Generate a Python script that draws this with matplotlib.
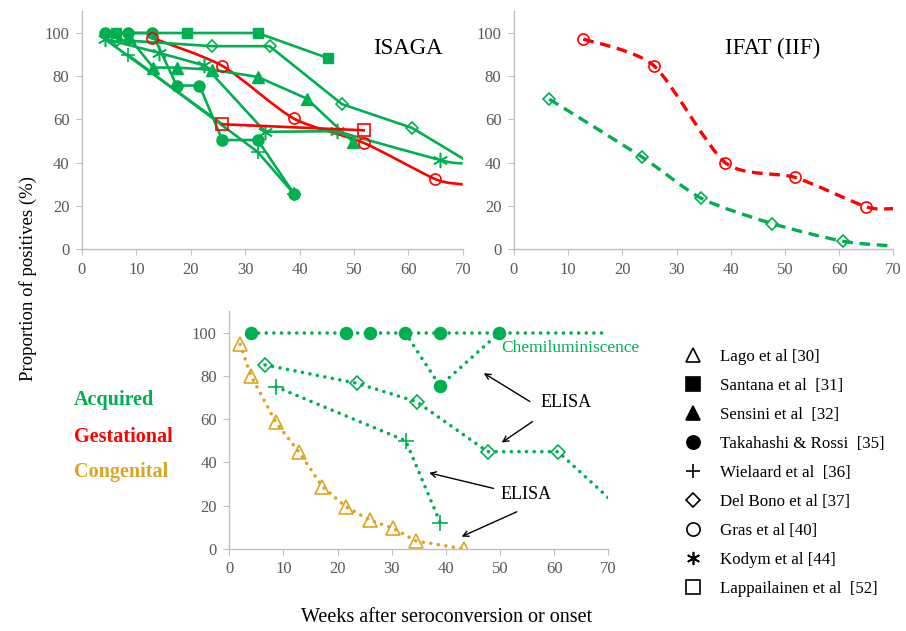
import matplotlib
matplotlib.use("Agg")
import matplotlib.pyplot as plt
from matplotlib.path import Path
from matplotlib.patches import PathPatch
from matplotlib.lines import Line2D

plt.rcParams['font.family'] = ['Liberation Serif', 'DejaVu Serif']

GREEN = '#00B050'
RED = '#FF0000'
GOLD = '#DAA520'
GREY = '#595959'

# ISAGA panel (weeks, % positive)
isaga_santana_x = [6.3, 19.3, 32.3, 45.2]
isaga_santana_y = [100, 100, 100, 88.4]
isaga_sensini_x = [8.6, 13.1, 17.4, 23.9, 32.3, 41.3, 49.8]
isaga_sensini_y = [98, 84, 84, 83, 79.7, 69.7, 49.7]
isaga_takahashi_x = [4.3, 8.5, 12.9, 17.4, 21.6, 25.8, 32.3, 39.0]
isaga_takahashi_y = [100, 100, 100, 75.7, 75.7, 50.5, 50.5, 25.6]
isaga_other_x = [4.3, 25.8]
isaga_other_y = [97, 57.8]
isaga_wielaard_x = [8.4, 32.3, 39.0]
isaga_wielaard_y = [90, 45, 25.6]
isaga_delbono_x = [6.5, 23.9, 34.5, 47.8, 60.7, 70]
isaga_delbono_y = [96.8, 93.9, 93.9, 67.1, 56.1, 42]
isaga_gras_x = [12.8, 25.8, 38.9, 51.8, 64.9, 70]
isaga_gras_y = [97.8, 84.8, 60.5, 49.2, 32.5, 30]
isaga_kodym_x = [4.3, 14.2, 22.5, 33.7, 46.8, 65.9, 70]
isaga_kodym_y = [97.2, 90.8, 85, 54.3, 54.6, 41.2, 39.7]
isaga_lapp_x = [25.8, 51.8]
isaga_lapp_y = [57.8, 55]

# IFAT panel
ifat_gras_x = [12.8, 25.8, 39.0, 51.9, 65.0, 70]
ifat_gras_y = [97.2, 84.9, 40.0, 33.2, 19.6, 18.8]
ifat_delbono_x = [6.5, 23.6, 34.6, 47.6, 60.7, 70]
ifat_delbono_y = [69.4, 42.7, 23.5, 11.9, 3.7, 1.5]

# ELISA / chemiluminiscence panel
chemi_x = [3.95, 21.5, 25.9, 32.5, 38.9, 49.9, 70]
chemi_y = [100, 100, 100, 100, 100, 100, 100]
chemi_dip_x = [32.5, 38.9, 49.9]
chemi_dip_y = [100, 75.4, 100]
elisa_delbono_x = [6.6, 23.6, 34.6, 47.7, 60.7, 70]
elisa_delbono_y = [85.1, 76.6, 68.1, 45, 45, 23.7]
elisa_wielaard_x = [8.6, 32.6, 39.0]
elisa_wielaard_y = [75, 50, 11.9]
lago_x = [2.0, 4.0, 8.6, 12.9, 17.2, 21.5, 25.9, 30.2, 34.5, 43.4]
lago_y = [94.6, 80.1, 58.6, 44.7, 28.8, 19.6, 13.4, 9.6, 3.7, 0]

legend_labels = ['Lago et al [30]', 'Santana et al  [31]', 'Sensini et al  [32]',
                 'Takahashi & Rossi  [35]', 'Wielaard et al  [36]', 'Del Bono et al [37]',
                 'Gras et al [40]', 'Kodym et al [44]', 'Lappailainen et al  [52]']
legend_markers = ['^', 's', '^', 'o', '+', 'D', 'o', (6, 2, 0), 's']
legend_filled = [False, True, True, True, True, False, False, True, False]

STAR = (6, 2, 0)


def style_axes(ax):
    ax.set_xlim(0, 70)
    ax.set_ylim(0, 110)
    ax.set_xticks(range(0, 71, 10))
    ax.set_yticks(range(0, 101, 20))
    for s in ['top', 'right']:
        ax.spines[s].set_visible(False)
    for s in ['left', 'bottom']:
        ax.spines[s].set_color('#BFBFBF')
        ax.spines[s].set_linewidth(1.0)
    ax.tick_params(colors='#BFBFBF', labelcolor=GREY, labelsize=12, length=4, pad=5)
    ax.patch.set_alpha(0)


def smooth(ax, x, y, t=1 / 8, **kw):
    # smoothed line through the points (Catmull-Rom style cubic Bezier)
    pts = list(zip(x, y))
    verts = [pts[0]]
    codes = [Path.MOVETO]
    n = len(pts)
    for i in range(n - 1):
        p0 = pts[i - 1] if i > 0 else pts[i]
        p1 = pts[i]
        p2 = pts[i + 1]
        p3 = pts[i + 2] if i + 2 < n else pts[i + 1]
        c1 = (p1[0] + (p2[0] - p0[0]) * t, p1[1] + (p2[1] - p0[1]) * t)
        c2 = (p2[0] - (p3[0] - p1[0]) * t, p2[1] - (p3[1] - p1[1]) * t)
        verts += [c1, c2, p2]
        codes += [Path.CURVE4] * 3
    ax.add_patch(PathPatch(Path(verts, codes), fill=False, **kw))


def marks(ax, x, y, marker, color, filled, ms, mew=1.2):
    ax.plot(x, y, linestyle='none', marker=marker, ms=ms,
            markerfacecolor=color if filled else 'none',
            markeredgecolor=color, markeredgewidth=mew)


fig = plt.figure(figsize=(9.06, 6.31), dpi=100)

ax1 = fig.add_axes([0.0905, 0.605, 0.4202, 0.377])
ax2 = fig.add_axes([0.5673, 0.605, 0.4187, 0.377])
ax3 = fig.add_axes([0.2531, 0.130, 0.4183, 0.377])
for ax in (ax1, ax2, ax3):
    style_axes(ax)

lw = 1.9
# ISAGA
ax1.plot(isaga_other_x, isaga_other_y, color=GREEN, lw=lw)
ax1.plot(isaga_santana_x, isaga_santana_y, color=GREEN, lw=lw, marker='s', ms=7)
ax1.plot(isaga_sensini_x, isaga_sensini_y, color=GREEN, lw=lw, marker='^', ms=8)
ax1.plot(isaga_takahashi_x, isaga_takahashi_y, color=GREEN, lw=lw, marker='o', ms=8)
ax1.plot(isaga_wielaard_x, isaga_wielaard_y, color=GREEN, lw=lw)
marks(ax1, isaga_wielaard_x, isaga_wielaard_y, '+', GREEN, True, 10, 1.2)
ax1.plot(isaga_delbono_x, isaga_delbono_y, color=GREEN, lw=lw)
marks(ax1, isaga_delbono_x[:-1], isaga_delbono_y[:-1], 'D', GREEN, False, 6.5)
ax1.plot(isaga_kodym_x[:5], isaga_kodym_y[:5], color=GREEN, lw=lw)
smooth(ax1, isaga_kodym_x[4:], isaga_kodym_y[4:], color=GREEN, lw=lw)
marks(ax1, isaga_kodym_x[:-1], isaga_kodym_y[:-1], STAR, GREEN, True, 11, 1.1)
smooth(ax1, isaga_gras_x, isaga_gras_y, color=RED, lw=lw)
marks(ax1, isaga_gras_x[:-1], isaga_gras_y[:-1], 'o', RED, False, 8)
ax1.plot(isaga_lapp_x, isaga_lapp_y, color=RED, lw=lw)
marks(ax1, isaga_lapp_x, isaga_lapp_y, 's', RED, False, 8)
ax1.text(60, 93, 'ISAGA', fontsize=16.5, ha='center', va='center')

# IFAT
smooth(ax2, ifat_gras_x, ifat_gras_y, color=RED, lw=2.4, linestyle=(0, (3.2, 2.0)))
marks(ax2, ifat_gras_x[:-1], ifat_gras_y[:-1], 'o', RED, False, 8)
smooth(ax2, ifat_delbono_x, ifat_delbono_y, color=GREEN, lw=2.4, linestyle=(0, (3.2, 2.0)))
marks(ax2, ifat_delbono_x[:-1], ifat_delbono_y[:-1], 'D', GREEN, False, 6.5)
ax2.text(47.8, 93, 'IFAT (IIF)', fontsize=16.5, ha='center', va='center')

# ELISA / chemiluminiscence
dots = dict(lw=2.6, linestyle=(0, (0.01, 2.1)), dash_capstyle='round')
ax3.plot(chemi_x, chemi_y, color=GREEN, **dots)
ax3.plot(chemi_dip_x, chemi_dip_y, color=GREEN, **dots)
marks(ax3, chemi_x[:-1], chemi_y[:-1], 'o', GREEN, True, 8.5)
marks(ax3, chemi_dip_x[1:2], chemi_dip_y[1:2], 'o', GREEN, True, 8.5)
ax3.plot(elisa_delbono_x, elisa_delbono_y, color=GREEN, **dots)
marks(ax3, elisa_delbono_x[:-1], elisa_delbono_y[:-1], 'D', GREEN, False, 7)
ax3.plot(elisa_wielaard_x, elisa_wielaard_y, color=GREEN, **dots)
marks(ax3, elisa_wielaard_x, elisa_wielaard_y, '+', GREEN, True, 11)
ax3.plot(lago_x, lago_y, color=GOLD, **dots)
marks(ax3, lago_x, lago_y, '^', GOLD, False, 10)

ax3.text(50.3, 92.8, 'Chemiluminiscence', color=GREEN, fontsize=12.5, va='center')
ax3.text(62.2, 67.5, 'ELISA', fontsize=13, ha='center', va='center')
ax3.text(54.9, 25, 'ELISA', fontsize=13, ha='center', va='center')
arrow = dict(arrowstyle='->', color='black', lw=1.0, shrinkA=0, shrinkB=0)
ax3.annotate('', xy=(47.0, 81.3), xytext=(55.5, 68.2), arrowprops=arrow, annotation_clip=False)
ax3.annotate('', xy=(50.3, 49.2), xytext=(56.0, 58.9), arrowprops=arrow, annotation_clip=False)
ax3.annotate('', xy=(36.9, 35.2), xytext=(48.8, 28.0), arrowprops=arrow, annotation_clip=False)
ax3.annotate('', xy=(42.9, 5.7), xytext=(53.1, 17.2), arrowprops=arrow, annotation_clip=False)

# category labels
fig.text(0.0817, 0.366, 'Acquired', color=GREEN, fontsize=14.5, fontweight='bold', va='center')
fig.text(0.0817, 0.3074, 'Gestational', color=RED, fontsize=14.5, fontweight='bold', va='center')
fig.text(0.0817, 0.252, 'Congenital', color=GOLD, fontsize=14.5, fontweight='bold', va='center')

fig.text(0.031, 0.559, 'Proportion of positives (%)', rotation=90, fontsize=13.5,
         ha='center', va='center')
fig.text(0.493, 0.021, 'Weeks after seroconversion or onset', fontsize=14.5,
         ha='center', va='center')

handles = []
for m, f in zip(legend_markers, legend_filled):
    handles.append(Line2D([], [], linestyle='none', marker=m, ms=9.5 if m != 'D' else 7.5,
                          markerfacecolor='black' if f else 'none',
                          markeredgecolor='black', markeredgewidth=1.2))
fig.legend(handles, legend_labels, loc='upper left', bbox_to_anchor=(0.746, 0.4582),
           frameon=False, fontsize=12.2, labelspacing=0.77, handletextpad=1.0,
           handlelength=1.2, borderaxespad=0)

fig.savefig('out.png', dpi=100)
